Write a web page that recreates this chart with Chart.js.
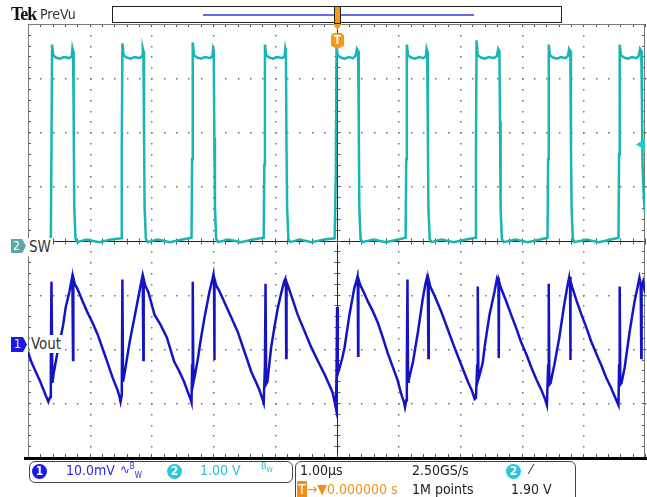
<!DOCTYPE html>
<html>
<head>
<meta charset="utf-8">
<script src="https://cdn.jsdelivr.net/npm/chart.js@4.4.0/dist/chart.umd.min.js"></script>
<style>
  body { margin: 0; background: #fff; }
  #wrap { position: relative; width: 647px; height: 497px; overflow: hidden;
          font-family: "Liberation Sans Narrow", "DejaVu Sans Condensed", "Liberation Sans", sans-serif; }
  #scope { position: absolute; left: 0; top: 0; }
  .abs { position: absolute; white-space: nowrap; }
  .circ { position: absolute; width: 15px; height: 15px; border-radius: 50%; color: #fff;
          font-size: 12px; line-height: 15px; text-align: center; font-weight: bold; }
  .box { position: absolute; border: 1px solid #444; border-radius: 6px; background: #fff; }
</style>
</head>
<body>
<div id="wrap">
  <canvas id="scope" width="647" height="497"></canvas>

  <!-- header -->
  <div class="abs" style="left:11px;top:4px;font:bold 18px 'Liberation Serif',serif;letter-spacing:-1px;color:#111;">Tek</div>
  <div class="abs" style="left:40px;top:6px;font-size:14px;color:#333;">PreVu</div>
  <div class="abs" style="left:112px;top:6px;width:448px;height:15px;border:1.5px solid #222;background:#fff;"></div>
  <div class="abs" style="left:203px;top:14px;width:271px;height:2px;background:#6a6aee;"></div>
  <div class="abs" style="left:334px;top:6px;width:5px;height:16px;border:1.5px solid #222;background:#f39a1c;"></div>
  <div class="abs" style="left:333px;top:24px;width:9px;height:6px;background:#f39a1c;clip-path:polygon(0 0,100% 0,50% 100%);"></div>
  <div class="abs" style="left:331px;top:33px;width:13px;height:16px;background:#f39a1c;border-radius:4px 4px 0 0;clip-path:polygon(0 0,100% 0,100% 80%,50% 100%,0 80%);color:#fff;font:bold 12px 'Liberation Sans',sans-serif;text-align:center;line-height:15px;">T</div>

  <!-- channel markers -->
  <div class="abs" style="left:11px;top:239px;width:15px;height:14px;background:#5aa8a8;clip-path:polygon(0 0,75% 0,100% 50%,75% 100%,0 100%);color:#fff;font-size:12px;line-height:14px;padding-left:2px;box-sizing:border-box;">2</div>
  <div class="abs" style="left:28px;top:238px;font-size:15px;color:#333;background:#fff;padding:0 2px 0 1px;">SW</div>
  <div class="abs" style="left:11px;top:337px;width:16px;height:15px;background:#1a1ae8;clip-path:polygon(0 0,75% 0,100% 50%,75% 100%,0 100%);color:#eee;font-size:12px;line-height:15px;padding-left:3px;box-sizing:border-box;">1</div>
  <div class="abs" style="left:30px;top:335px;font-size:15px;color:#333;background:#fff;padding:0 1px;">Vout</div>
  <div class="abs" style="left:636px;top:139px;width:9px;height:11px;background:#22c8d0;clip-path:polygon(0 50%,100% 0,100% 100%);"></div>

  <!-- readouts -->
  <div class="box" style="left:29px;top:461px;width:262px;height:20px;"></div>
  <div class="circ" style="left:32px;top:464px;background:#1a1ae8;">1</div>
  <div class="abs" style="left:66px;top:462px;font-size:14px;color:#2a2ae0;">10.0mV</div>
  <div class="abs" style="left:120px;top:462px;font-size:13px;color:#2a2ae0;">&#8767;<sup style="font-size:8px;">B</sup><sub style="font-size:8px;">W</sub></div>
  <div class="circ" style="left:167px;top:464px;background:#28c8d4;">2</div>
  <div class="abs" style="left:200px;top:462px;font-size:14px;color:#28c0cc;">1.00 V</div>
  <div class="abs" style="left:261px;top:461px;font-size:9px;color:#28c0cc;">B<sub style="font-size:7px;">W</sub></div>

  <div class="box" style="left:295px;top:461px;width:279px;height:45px;"></div>
  <div class="abs" style="left:300px;top:462px;font-size:14px;color:#222;">1.00&micro;s</div>
  <div class="abs" style="left:412px;top:462px;font-size:14px;color:#222;">2.50GS/s</div>
  <div class="circ" style="left:506px;top:464px;background:#28c8d4;">2</div>
  <div class="abs" style="left:530px;top:461px;font-size:14px;color:#222;">&#8260;</div>
  <div class="abs" style="left:297px;top:481px;font-size:14px;color:#f0901a;"><span style="background:#f0901a;color:#fff;padding:0 1px;">T</span>&#8594;&#9660;0.000000 s</div>
  <div class="abs" style="left:412px;top:481px;font-size:14px;color:#222;">1M points</div>
  <div class="abs" style="left:511px;top:481px;font-size:14px;color:#222;">1.90 V</div>
</div>

<script>
// time axis in microseconds (1.00 us/div, trigger at 0)
var swTime = [
  -5.00, -4.85, -4.72, -4.63,
  -4.62, -4.61, -4.59, -4.55, -4.48, -4.42, -4.33, -4.29, -4.28, -4.27, -4.26, -4.25, -4.23, -4.20, -4.05, -3.85, -3.65, -3.49,
  -3.48, -3.47, -3.45, -3.40, -3.34, -3.27, -3.19, -3.15, -3.14, -3.13, -3.12, -3.11, -3.09, -3.06, -2.90, -2.70, -2.50, -2.35,
  -2.34, -2.33, -2.31, -2.26, -2.20, -2.13, -2.05, -2.01, -2.00, -1.99, -1.98, -1.97, -1.95, -1.92, -1.75, -1.55, -1.35, -1.18,
  -1.17, -1.16, -1.14, -1.09, -1.03, -0.96, -0.88, -0.84, -0.83, -0.82, -0.81, -0.80, -0.78, -0.75, -0.60, -0.40, -0.20, -0.03,
  -0.01, 0.00, 0.02, 0.07, 0.13, 0.20, 0.27, 0.31, 0.33, 0.35, 0.36, 0.37, 0.39, 0.42, 0.60, 0.80, 1.00, 1.12,
  1.13, 1.14, 1.16, 1.21, 1.27, 1.34, 1.41, 1.45, 1.46, 1.47, 1.48, 1.49, 1.51, 1.54, 1.70, 1.90, 2.10, 2.25,
  2.26, 2.27, 2.29, 2.34, 2.40, 2.47, 2.55, 2.60, 2.62, 2.64, 2.65, 2.66, 2.68, 2.71, 2.90, 3.10, 3.30, 3.42,
  3.43, 3.44, 3.46, 3.51, 3.57, 3.64, 3.71, 3.75, 3.77, 3.79, 3.80, 3.81, 3.83, 3.86, 4.05, 4.25, 4.45, 4.57,
  4.58, 4.59, 4.61, 4.66, 4.72, 4.79, 4.86, 4.90, 4.92, 4.94, 4.95, 4.96, 4.98, 5.00
];
// SW in volts (1.00 V/div)
var swVolts = [
  0.01, -0.03, 0.02, 0.03,
  1.6, 3.62, 3.42, 3.38, 3.36, 3.39, 3.37, 3.41, 3.55, 3.50, 2.3, 0.6, 0.03, -0.03, 0.02, -0.03, 0.02, 0.04,
  1.7, 3.64, 3.42, 3.38, 3.36, 3.39, 3.37, 3.41, 3.55, 3.50, 2.1, 0.6, 0.03, -0.03, 0.02, -0.03, 0.02, 0.05,
  1.5, 3.66, 3.42, 3.38, 3.36, 3.39, 3.37, 3.41, 3.54, 3.50, 1.9, 0.6, 0.03, -0.03, 0.02, -0.03, 0.02, 0.05,
  1.4, 3.62, 3.42, 3.38, 3.36, 3.39, 3.37, 3.41, 3.55, 3.50, 1.7, 0.6, 0.03, -0.03, 0.02, -0.03, 0.02, 0.04,
  1.3, 3.58, 3.42, 3.38, 3.36, 3.39, 3.37, 3.41, 3.54, 3.50, 2.3, 0.6, 0.03, -0.03, 0.02, -0.03, 0.02, 0.05,
  1.5, 3.62, 3.42, 3.38, 3.36, 3.39, 3.37, 3.41, 3.54, 3.50, 2.0, 0.6, 0.03, -0.03, 0.02, -0.03, 0.02, 0.05,
  1.6, 3.70, 3.42, 3.38, 3.36, 3.39, 3.37, 3.41, 3.54, 3.50, 2.2, 0.6, 0.03, -0.03, 0.02, -0.03, 0.02, 0.05,
  1.5, 3.62, 3.42, 3.38, 3.36, 3.39, 3.37, 3.41, 3.54, 3.50, 1.8, 0.6, 0.03, -0.03, 0.02, -0.03, 0.02, 0.05,
  1.6, 3.62, 3.42, 3.38, 3.36, 3.39, 3.37, 3.41, 3.54, 3.50, 2.6, 1.4, 0.8, 0.5
];

var voutTime = [
  -5.00, -4.95, -4.88, -4.80, -4.72, -4.67, -4.64,
  -4.63, -4.62, -4.605, -4.58, -4.53, -4.47, -4.43, -4.39, -4.33, -4.29, -4.28, -4.27, -4.265, -4.24, -4.20, -4.12, -4.04, -3.95, -3.87, -3.79, -3.71, -3.63, -3.55, -3.52, -3.50,
  -3.48, -3.47, -3.46, -3.44, -3.40, -3.35, -3.29, -3.23, -3.18, -3.15, -3.14, -3.13, -3.125, -3.10, -3.05, -2.95, -2.85, -2.75, -2.63, -2.55, -2.47, -2.40, -2.36, -2.35,
  -2.34, -2.33, -2.32, -2.29, -2.25, -2.20, -2.14, -2.06, -2.01, -1.995, -1.985, -1.98, -1.975, -1.95, -1.90, -1.82, -1.71, -1.60, -1.49, -1.38, -1.30, -1.25, -1.20, -1.18,
  -1.16, -1.15, -1.14, -1.12, -1.06, -1.00, -0.95, -0.90, -0.85, -0.83, -0.82, -0.815, -0.81, -0.78, -0.72, -0.63, -0.52, -0.41, -0.30, -0.19, -0.10, -0.06, -0.03, -0.01,
  0.00, 0.01, 0.02, 0.05, 0.09, 0.13, 0.21, 0.29, 0.32, 0.34, 0.345, 0.35, 0.355, 0.38, 0.44, 0.51, 0.59, 0.67, 0.75, 0.83, 0.91, 0.99, 1.05, 1.09, 1.11,
  1.13, 1.14, 1.15, 1.16, 1.17, 1.24, 1.32, 1.40, 1.44, 1.465, 1.48, 1.49, 1.495, 1.52, 1.60, 1.70, 1.80, 1.91, 2.02, 2.13, 2.20, 2.24, 2.26,
  2.28, 2.29, 2.30, 2.32, 2.37, 2.40, 2.48, 2.56, 2.60, 2.615, 2.625, 2.63, 2.635, 2.66, 2.74, 2.83, 2.91, 2.99, 3.08, 3.16, 3.24, 3.32, 3.38, 3.41,
  3.43, 3.44, 3.45, 3.47, 3.53, 3.61, 3.69, 3.74, 3.77, 3.78, 3.785, 3.79, 3.795, 3.82, 3.89, 3.97, 4.05, 4.13, 4.21, 4.29, 4.37, 4.45, 4.52, 4.57,
  4.58, 4.59, 4.60, 4.62, 4.67, 4.75, 4.83, 4.88, 4.91, 4.93, 4.94, 4.945, 4.97, 5.00
];
// Vout ripple in mV (10.0 mV/div)
var voutMv = [
  -1.5, -3.2, -5.0, -7.0, -9.3, -10.7, -9.8,
  -4.0, 11.5, -7.2, -5.2, -2.0, 1.3, 3.5, 6.7, 9.6, 12.0, 11.2, -3.0, 12.2, 11.0, 10.2, 8.0, 5.9, 3.8, 1.7, -0.9, -3.5, -6.2, -8.5, -9.6, -10.7,
  -9.5, 11.9, -7.0, -5.8, -3.0, 0.5, 4.0, 7.5, 10.5, 12.2, 11.3, -3.0, 12.0, 10.8, 9.6, 5.4, 3.5, 1.2, -3.3, -5.0, -7.0, -9.2, -10.4, -10.8,
  -4.0, 11.5, -7.2, -5.5, -3.0, 0.8, 4.8, 9.6, 12.0, 12.8, 11.0, -3.0, 12.0, 10.8, 9.8, 7.8, 5.0, 2.2, -1.5, -5.2, -7.2, -8.5, -10.2, -10.9,
  -4.0, 11.1, -7.4, -7.0, -0.7, 3.5, 6.7, 9.2, 11.5, 12.0, 10.5, -2.6, 11.4, 10.5, 8.5, 5.4, 2.4, -0.6, -3.2, -5.7, -8.0, -9.1, -10.8, -11.9,
  -6.0, 6.8, -5.5, -4.4, -2.8, -0.7, 5.4, 10.4, 11.5, 12.4, 11.0, -2.2, 12.0, 11.0, 9.6, 7.8, 6.0, 3.9, 1.2, -1.7, -4.2, -6.7, -9.3, -10.6, -11.7,
  -10.4, -4.0, 11.9, -7.0, -6.7, -3.3, 2.2, 8.5, 11.0, 12.2, 11.5, -2.6, 11.8, 10.6, 8.6, 5.9, 2.8, -0.6, -3.8, -7.0, -8.8, -10.2, -10.0,
  -4.0, 10.6, -6.5, -5.7, -3.5, -0.6, 5.4, 9.6, 12.0, 11.5, 12.2, -2.6, 11.5, 10.5, 8.2, 5.4, 3.0, 0.4, -2.0, -4.4, -6.6, -8.5, -10.2, -11.3,
  -4.0, 11.1, -7.5, -7.2, -3.9, 1.1, 7.2, 10.5, 12.2, 11.0, 12.4, -3.0, 11.6, 10.5, 8.0, 5.4, 3.0, 0.4, -1.8, -3.9, -6.2, -8.1, -10.0, -11.3,
  -4.0, 10.6, -7.5, -7.2, -4.4, 2.2, 7.8, 10.5, 12.2, 11.0, -2.6, 10.5, 11.5, 9.5
];

function toPoints(xs, ys){
    var pts = [];
    for(var i = 0; i < xs.length; i++){
        pts.push({ x: xs[i], y: ys[i] });
    }
    return pts;
}

//- graticule: dotted divisions, solid centre cross, framed edges -
var graticule = {
  id: 'graticule',
  beforeDatasetsDraw: function(chart){
    var ctx = chart.ctx;
    var a = chart.chartArea;
    var xs = chart.scales.x;
    var ys = chart.scales.ySw;
    var i, k, px, py;
    ctx.save();

    // dots on the major lines, every 0.2 div
    ctx.fillStyle = '#6f6f6f';
    for(i = -4; i <= 4; i++){
      if(i === 0) continue;
      px = Math.round(xs.getPixelForValue(i));
      for(k = -20; k <= 20; k++){
        py = Math.round(ys.getPixelForValue(k * 0.2));
        ctx.fillRect(px, py, 1.5, 1.5);
      }
    }
    for(i = -3; i <= 3; i++){
      if(i === 0) continue;
      py = Math.round(ys.getPixelForValue(i));
      for(k = -25; k <= 25; k++){
        px = Math.round(xs.getPixelForValue(k * 0.2));
        ctx.fillRect(px, py, 1.5, 1.5);
      }
    }

    // centre cross with minor ticks
    var cx = Math.round(xs.getPixelForValue(0)) + 0.5;
    var cy = Math.round(ys.getPixelForValue(0)) + 0.5;
    ctx.strokeStyle = '#222';
    ctx.lineWidth = 1;
    ctx.beginPath();
    ctx.moveTo(cx, a.top); ctx.lineTo(cx, a.bottom);
    ctx.moveTo(a.left, cy); ctx.lineTo(a.right, cy);
    ctx.stroke();
    ctx.strokeStyle = '#555';
    ctx.beginPath();
    for(k = -20; k <= 20; k++){
      py = Math.round(ys.getPixelForValue(k * 0.2)) + 0.5;
      ctx.moveTo(cx - 3, py); ctx.lineTo(cx + 3, py);
      ctx.moveTo(a.left, py); ctx.lineTo(a.left + 3, py);
      ctx.moveTo(a.right, py); ctx.lineTo(a.right - 3, py);
    }
    for(k = -25; k <= 25; k++){
      px = Math.round(xs.getPixelForValue(k * 0.2)) + 0.5;
      ctx.moveTo(px, cy - 3); ctx.lineTo(px, cy + 3);
      ctx.moveTo(px, a.top); ctx.lineTo(px, a.top + 3);
      ctx.moveTo(px, a.bottom); ctx.lineTo(px, a.bottom - 3);
    }
    ctx.stroke();

    // frame
    ctx.strokeStyle = '#7a7a7a';
    ctx.beginPath();
    ctx.moveTo(a.left + 0.5, a.bottom); ctx.lineTo(a.left + 0.5, a.top + 0.5);
    ctx.lineTo(a.right - 0.5, a.top + 0.5); ctx.lineTo(a.right - 0.5, a.bottom);
    ctx.stroke();
    ctx.fillStyle = '#000';
    ctx.fillRect(a.left - 4, a.bottom, chart.width - a.left + 4, 3);
    ctx.restore();
  }
};

new Chart(document.getElementById('scope').getContext('2d'), {
  type: 'line',
  data: {
    datasets: [
      {
        label: 'Vout',
        data: toPoints(voutTime, voutMv),
        yAxisID: 'yOut',
        borderColor: '#1414c4',
        borderWidth: 2.5,
        pointRadius: 0,
        tension: 0
      },
      {
        label: 'SW',
        data: toPoints(swTime, swVolts),
        yAxisID: 'ySw',
        borderColor: '#19b4b4',
        borderWidth: 2.5,
        pointRadius: 0,
        tension: 0
      }
    ]
  },
  options: {
    responsive: false,
    animation: false,
    layout: { padding: { left: 28, top: 24, right: 2, bottom: 40 } },
    plugins: { legend: { display: false }, tooltip: { enabled: false } },
    scales: {
      x: { type: 'linear', min: -5, max: 5, display: false },
      ySw: { type: 'linear', min: -4, max: 4, display: false },
      yOut: { type: 'linear', min: -20.9, max: 59.1, display: false }
    }
  },
  plugins: [graticule]
});
</script>
</body>
</html>
